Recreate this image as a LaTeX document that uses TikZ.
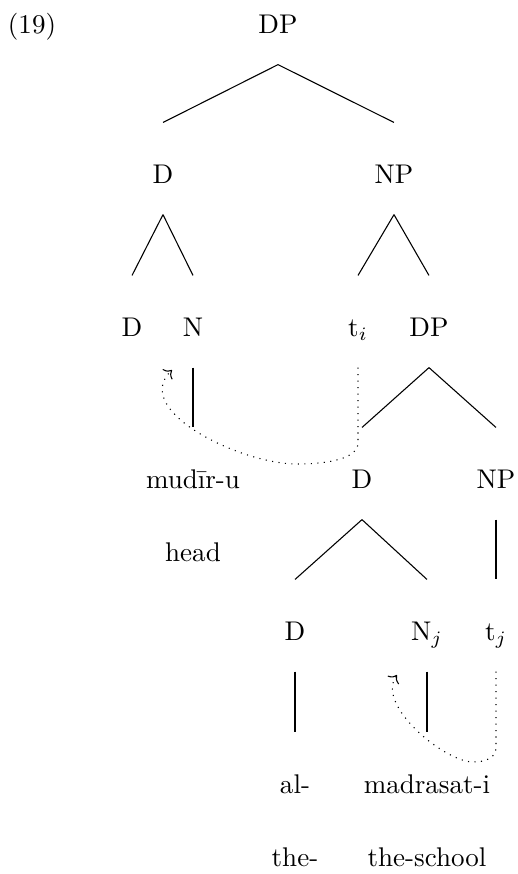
\documentclass[tikz,border=0pt]{standalone}
\usetikzlibrary{arrows.meta}

\begin{document}
\begin{tikzpicture}[
    x=0.37pt, y=-0.37pt,
    cat/.style={anchor=base, inner sep=0pt, text height=22.2pt, text depth=11.5pt},
    gloss/.style={anchor=base, inner sep=0pt},
    move/.style={dotted, ->}
]
\useasboundingbox (0,0) rectangle (518,874);

% Example number
\node[gloss] (ex) at (32,33) {(19)};

% Level 1 and 2
\node[cat] (dp0) at (278,33) {DP};
\node[cat] (d1) at (163,183) {D};
\node[cat] (np1) at (394,183) {NP};

% Level 3
\node[cat] (d2) at (132,336) {D};
\node[cat] (n2) at (193,336) {N};
\node[cat] (ti) at (358,336) {t$_i$};
\node[cat] (dp2) at (429,336) {DP};

% Level 4
\node[cat] (mudir) at (193,488) {mud\={\i}r-u};
\node[cat] (d3) at (362,488) {D};
\node[cat] (np3) at (496,488) {NP};
\node[gloss] (head) at (193,561) {head};

% Level 5
\node[cat] (d4) at (295,640) {D};
\node[cat] (nj) at (427,640) {N$_j$};
\node[cat] (tj) at (496,640) {t$_j$};

% Words and glosses
\node[cat] (al) at (295,793) {al-};
\node[cat] (madrasat) at (427,793) {madrasat-i};
\node[gloss] (the) at (295,866) {the-};
\node[gloss] (school) at (427,866) {the-school};

% Branches
\draw (dp0.south) -- (d1.north);
\draw (dp0.south) -- (np1.north);
\draw (d1.south) -- (d2.north);
\draw (d1.south) -- (n2.north);
\draw (np1.south) -- (ti.north);
\draw (np1.south) -- (dp2.north);
\draw (n2.south) -- (mudir.north);
\draw (dp2.south) -- (d3.north);
\draw (dp2.south) -- (np3.north);
\draw (d3.south) -- (d4.north);
\draw (d3.south) -- (nj.north);
\draw (np3.south) -- (tj.north);
\draw (d4.south) -- (al.north);
\draw (nj.south) -- (madrasat.north);

% Movement arrows
\coordinate (ni) at (172,370);
\coordinate (nji) at (397,675);
\draw[move] (ti.south) -- (358,443)
    .. controls (358,458) and (330,464) .. (297,464)
    .. controls (240,464) and (130,410) .. (ni);
\draw[move] (tj.south) -- (496,748)
    .. controls (496,758) and (485,762) .. (473,762)
    .. controls (445,762) and (375,705) .. (nji);

\end{tikzpicture}
\end{document}
